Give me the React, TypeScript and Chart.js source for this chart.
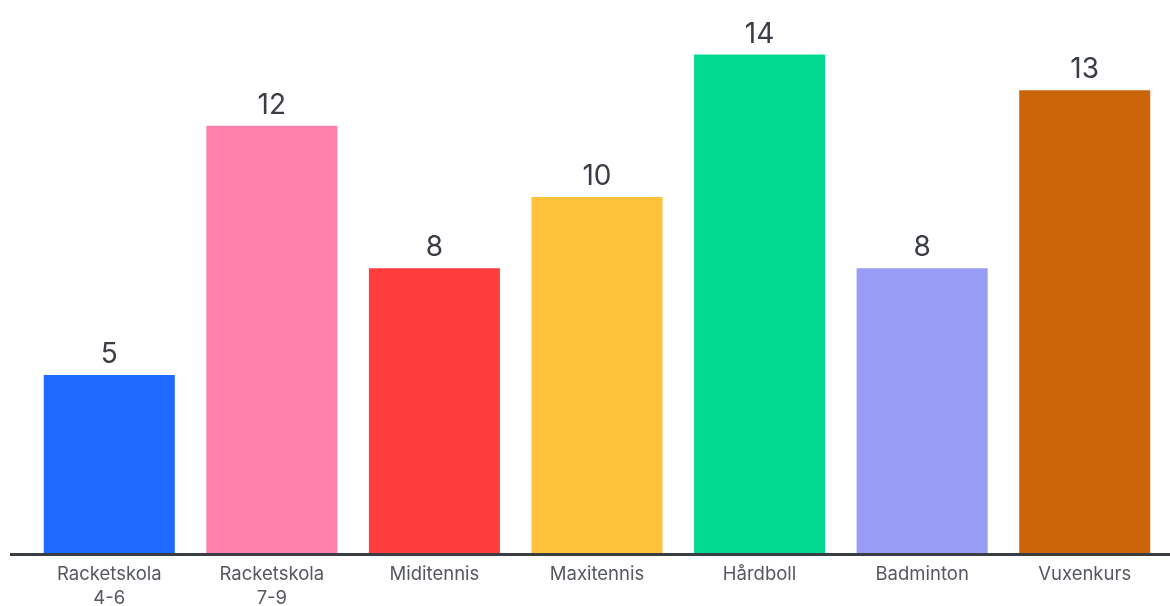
import React, { useEffect, useRef } from "react";
import { Chart, registerables } from "chart.js";

Chart.register(...registerables);

const categories: (string | string[])[] = [
  ["Racketskola", "4-6"],
  ["Racketskola", "7-9"],
  "Miditennis",
  "Maxitennis",
  "Hårdboll",
  "Badminton",
  "Vuxenkurs",
];
const values = [5, 12, 8, 10, 14, 8, 13];
const barColors = ["#1f6bff", "#ff80aa", "#ff3d3d", "#ffc23a", "#00d98f", "#989cf5", "#cc640a"];

const FONT = "Inter, 'Noto Sans', sans-serif";

const valueLabels = {
  id: "valueLabels",
  afterDatasetsDraw(chart: any) {
    const ctx = chart.ctx;
    const meta = chart.getDatasetMeta(0);
    ctx.save();
    ctx.fillStyle = "#3a3d44";
    ctx.font = `28px ${FONT}`;
    ctx.textAlign = "center";
    ctx.textBaseline = "alphabetic";
    meta.data.forEach((bar: any, i: number) => {
      ctx.fillText(String(values[i]), bar.x, bar.y - 12);
    });
    ctx.restore();
  },
};

const axisLine = {
  id: "axisLine",
  afterDatasetsDraw(chart: any) {
    const ctx = chart.ctx;
    const y = chart.scales.y.getPixelForValue(0);
    ctx.save();
    ctx.strokeStyle = "#3a3d44";
    ctx.lineWidth = 3;
    ctx.beginPath();
    ctx.moveTo(10, y + 1.5);
    ctx.lineTo(chart.width, y + 1.5);
    ctx.stroke();
    ctx.restore();
  },
};

export default function App() {
  const ref = useRef<HTMLCanvasElement>(null);
  useEffect(() => {
    document.body.style.margin = "0";
    const chart = new Chart(ref.current!, {
      type: "bar",
      data: {
        labels: categories,
        datasets: [
          {
            data: values,
            backgroundColor: barColors,
            borderWidth: 0,
            barPercentage: 0.806,
            categoryPercentage: 1,
          },
        ],
      },
      options: {
        animation: false,
        responsive: false,
        layout: { padding: { left: 28, right: 4, top: 19, bottom: 0 } },
        plugins: { legend: { display: false }, tooltip: { enabled: false } },
        scales: {
          x: {
            grid: { display: false },
            border: { display: false },
            ticks: {
              color: "#55585e",
              font: { family: FONT, size: 18.5, lineHeight: 1.3 },
              padding: 1,
              maxRotation: 0,
              autoSkip: false,
            },
            afterFit: (s: any) => {
              s.height = 53;
            },
          },
          y: {
            display: false,
            min: 0,
            max: 15,
          },
        },
      },
      plugins: [valueLabels, axisLine],
    });
    return () => chart.destroy();
  }, []);
  return (
    <div style={{ width: 1170, height: 606, background: "#fff" }}>
      <canvas ref={ref} width={1170} height={606} style={{ display: "block" }} />
    </div>
  );
}
